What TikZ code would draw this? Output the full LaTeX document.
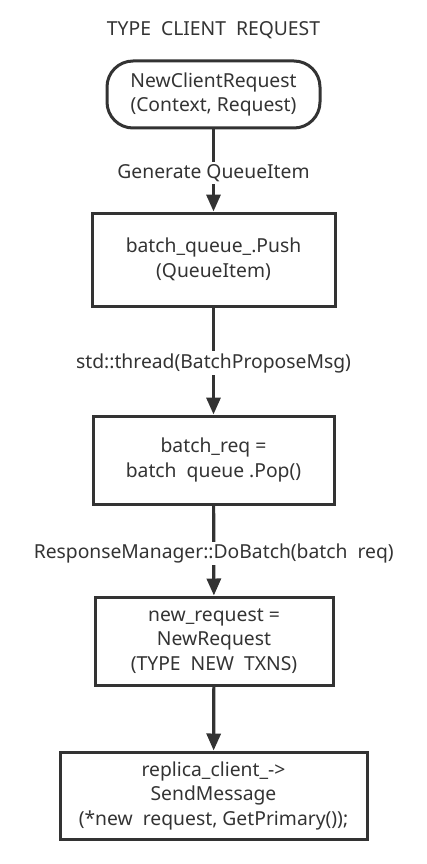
\documentclass[tikz,border=0pt]{standalone}
\usepackage{fontspec}
\setmainfont{Noto Sans}
\usetikzlibrary{arrows.meta}
\definecolor{ink}{HTML}{333333}
\tikzset{
  x=1pt,y=-1pt,
  every node/.style={text=ink,font=\fontsize{19.3}{24.5}\selectfont,align=center},
  box/.style={draw=ink,line width=3pt,minimum height=#1,inner sep=0pt},
  flow/.style={draw=ink,line width=3.2pt,-{Triangle[length=17pt,width=14pt]}},
  lbl/.style={fill=white,inner sep=2pt}
}
\begin{document}
\begin{tikzpicture}
\useasboundingbox (0,0) rectangle (427,864);
\node (title) at (213.5,30) {TYPE\ \ CLIENT\ \ REQUEST};
\node[box=67pt,minimum width=213pt,rounded corners=26pt] (start) at (213.5,94.5) {NewClientRequest\\(Context, Request)};
\node[box=93pt,minimum width=243pt] (push) at (213.5,259.5) {batch\_queue\_.Push\\(QueueItem)};
\node[box=88pt,minimum width=241pt] (pop) at (213.5,460) {batch\_req =\\batch\ \ queue\ .Pop()};
\node[box=88pt,minimum width=238pt] (newreq) at (214,641) {new\_request =\\NewRequest\\(TYPE\ \ NEW\ \ TXNS)};
\node[box=87pt,minimum width=307pt] (send) at (213.5,795.5) {replica\_client\_->\\SendMessage\\(*new\ \ request, GetPrimary());};
\draw[flow] (start) -- (push) node[lbl,pos=0.53] (l1) {Generate QueueItem};
\draw[flow] (push) -- (pop) node[lbl,pos=0.52] (l2) {std::thread(BatchProposeMsg)};
\draw[flow] (pop) -- (newreq) node[lbl,pos=0.53] (l3) {ResponseManager::DoBatch(batch\ \ req)};
\draw[flow] (newreq) -- (send);
\end{tikzpicture}
\end{document}
